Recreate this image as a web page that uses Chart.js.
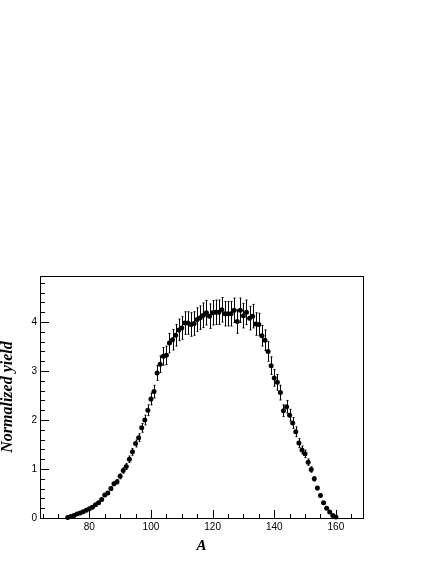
<!DOCTYPE html>
<html>
<head>
<meta charset="utf-8">
<script src="https://cdn.jsdelivr.net/npm/chart.js@4"></script>
<style>
html,body{margin:0;padding:0;background:#fff;}
#wrap{width:436px;height:564px;}
</style>
</head>
<body>
<div id="wrap"><canvas id="c" width="436" height="564"></canvas></div>
<script>
// ---- data ----
const massNumbers = [73,74,75,76,77,78,79,80,81,82,83,84,85,86,87,88,89,90,91,92,93,94,95,96,97,98,99,100,
  101,102,103,104,105,106,107,108,109,110,111,112,113,114,115,116,117,118,119,120,
  121,122,123,124,125,126,127,128,129,130,131,132,133,134,135,136,137,138,139,140,
  141,142,143,144,145,146,147,148,149,150,151,152,153,154,155,156,157,158,159,160];
const yields = [0.01,0.03,0.05,0.08,0.10,0.13,0.16,0.19,0.22,0.27,0.31,0.38,0.47,0.51,0.60,0.70,0.74,0.85,0.97,1.05,
  1.20,1.35,1.52,1.64,1.84,2.00,2.20,2.43,
  2.58,2.96,3.14,3.30,3.32,3.57,3.64,3.73,3.84,3.88,3.98,3.98,3.95,3.97,4.05,4.09,4.14,4.19,4.12,4.19,
  4.20,4.20,4.25,4.17,4.17,4.17,4.24,4.01,4.24,4.13,4.20,4.08,4.12,3.96,3.95,3.72,3.63,3.40,3.11,2.86,
  2.77,2.56,2.19,2.27,2.10,1.94,1.76,1.53,1.39,1.31,1.14,0.99,0.80,0.61,0.46,0.31,0.20,0.12,0.05,0.02];
const yieldErrors = [0.005,0.005,0.01,0.01,0.01,0.01,0.01,0.01,0.015,0.015,0.02,0.02,0.025,0.03,0.035,0.04,0.045,0.05,0.055,0.06,
  0.065,0.07,0.07,0.08,0.09,0.10,0.11,0.12,
  0.13,0.15,0.17,0.18,0.19,0.20,0.21,0.22,0.22,0.23,0.23,0.23,0.24,0.24,0.24,0.24,0.25,0.25,0.25,0.25,
  0.25,0.25,0.25,0.25,0.25,0.25,0.25,0.24,0.25,0.25,0.25,0.24,0.24,0.23,0.23,0.21,0.21,0.20,0.18,0.17,
  0.16,0.15,0.12,0.13,0.12,0.11,0.10,0.09,0.08,0.075,0.065,0.055,0.045,0.035,0.025,0.02,0.012,0.008,0.004,0.002];
const xTickLabels = [80,100,120,140,160];
const yTickLabels = [0,1,2,3,4];
const xMinorStep = 5;
const yMinorStep = 0.2;
const xTitle = 'A';
const yTitle = 'Normalized yield';

const points = massNumbers.map((a,i)=>({x:a, y:yields[i]}));

// error bars, drawn through the chart scales
const errorBarPlugin = {
  id:'errorBars',
  beforeDatasetsDraw(chart){
    const {ctx, scales:{x, y}} = chart;
    ctx.save();
    ctx.strokeStyle = '#000';
    ctx.lineWidth = 1;
    ctx.beginPath();
    massNumbers.forEach((a,i)=>{
      const px = Math.round(x.getPixelForValue(a)) + 0.5;
      const y1 = y.getPixelForValue(yields[i] - yieldErrors[i]);
      const y2 = y.getPixelForValue(yields[i] + yieldErrors[i]);
      ctx.moveTo(px, y1); ctx.lineTo(px, y2);
      ctx.moveTo(px-1, y1); ctx.lineTo(px+1, y1);
      ctx.moveTo(px-1, y2); ctx.lineTo(px+1, y2);
    });
    ctx.stroke();
    ctx.restore();
  }
};

// ROOT-style frame and inward ticks
const framePlugin = {
  id:'frame',
  afterDatasetsDraw(chart){
    const {ctx, chartArea:ca, scales:{x, y}} = chart;
    ctx.save();
    ctx.strokeStyle = '#000';
    ctx.lineWidth = 1;
    ctx.beginPath();
    for (let v = Math.ceil(x.min/xMinorStep)*xMinorStep; v <= x.max + 1e-9; v += xMinorStep) {
      const px = Math.round(x.getPixelForValue(v)) + 0.5;
      const major = xTickLabels.includes(v);
      const len = major ? 8 : 4;
      ctx.moveTo(px, ca.bottom); ctx.lineTo(px, ca.bottom - len);
    }
    for (let k = 0; k * yMinorStep <= y.max + 1e-9; k++) {
      const v = +(k*yMinorStep).toFixed(4);
      const py = Math.round(y.getPixelForValue(v)) + 0.5;
      const major = Math.abs(v - Math.round(v)) < 1e-6;
      const len = major ? 9 : 5;
      ctx.moveTo(ca.left, py); ctx.lineTo(ca.left + len, py);
    }
    ctx.stroke();
    ctx.strokeRect(Math.round(ca.left)+0.5, Math.round(ca.top)+0.5, Math.round(ca.right-ca.left), Math.round(ca.bottom-ca.top));
    ctx.restore();
  }
};

new Chart(document.getElementById('c'), {
  type:'scatter',
  data:{ datasets:[{
    data: points,
    backgroundColor:'#000',
    borderColor:'#000',
    borderWidth:0,
    pointRadius:2.5,
    pointHoverRadius:2.5,
    showLine:false,
    clip:false
  }]},
  options:{
    responsive:false,
    devicePixelRatio:1,
    animation:false,
    layout:{padding:{left:0, top:276, right:73, bottom:0}},
    plugins:{legend:{display:false}, tooltip:{enabled:false}},
    scales:{
      x:{
        type:'linear', position:'bottom', min:64, max:168.8,
        afterBuildTicks(s){ s.ticks = xTickLabels.map(v=>({value:v})); },
        afterFit(s){ s.height = 46; },
        grid:{display:false, drawTicks:false},
        border:{display:false},
        ticks:{color:'#000', padding:3, maxRotation:0, autoSkip:false,
          font:{family:'"Liberation Sans", Arial, sans-serif', size:10}},
        title:{display:true, text:xTitle, color:'#000', padding:{top:0,bottom:9},
          font:{family:'"Liberation Serif", "Times New Roman", serif', size:15, weight:'bold', style:'italic', lineHeight:1.2}}
      },
      y:{
        type:'linear', position:'left', min:0, max:4.94,
        afterBuildTicks(s){ s.ticks = yTickLabels.map(v=>({value:v})); },
        afterFit(s){ s.width = 40; },
        grid:{display:false, drawTicks:false},
        border:{display:false},
        ticks:{color:'#000', padding:3, autoSkip:false,
          font:{family:'"Liberation Sans", Arial, sans-serif', size:10}},
        title:{display:true, text:yTitle, color:'#000', padding:{top:0,bottom:0},
          font:{family:'"Liberation Serif", "Times New Roman", serif', size:16, weight:'bold', style:'italic', lineHeight:1}}
      }
    }
  },
  plugins:[errorBarPlugin, framePlugin]
});
</script>
</body>
</html>
